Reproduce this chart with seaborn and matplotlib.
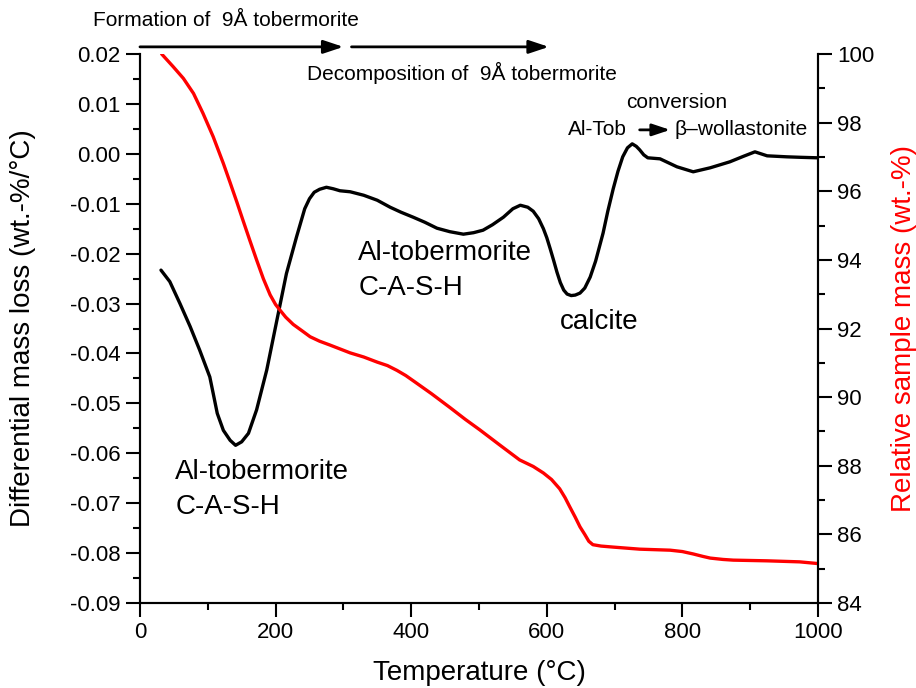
import matplotlib
matplotlib.use("Agg")
import matplotlib.pyplot as plt
from matplotlib.ticker import MultipleLocator, FormatStrFormatter
import seaborn as sns
import pandas as pd

# Differential thermogravimetry (DTG) curve
temp_dtg = [31, 44, 59, 74, 88, 103, 108, 114, 123, 133, 141, 150, 160, 172, 187,
            202, 216, 231, 243, 250, 257, 265, 275, 285, 295, 310, 330, 350, 369,
            385, 403, 420, 438, 457, 477, 492, 506, 520, 536, 550, 561, 572, 580,
            588, 595, 600, 605, 610, 615, 620, 625, 630, 636, 642, 649, 656, 664,
            672, 683, 690, 698, 705, 712, 719, 726, 732, 737, 743, 749, 767, 792,
            816, 841, 870, 890, 907, 925, 954, 975, 1000]
dtg = [-0.0233, -0.0256, -0.0300, -0.0346, -0.0393, -0.0447, -0.0480, -0.0520,
       -0.0554, -0.0574, -0.0584, -0.0577, -0.0560, -0.0513, -0.0433, -0.0333,
       -0.0240, -0.0166, -0.0110, -0.0090, -0.0077, -0.0071, -0.0067, -0.0070,
       -0.0074, -0.0076, -0.0083, -0.0093, -0.0107, -0.0117, -0.0127, -0.0137,
       -0.0149, -0.0156, -0.0161, -0.0158, -0.0153, -0.0142, -0.0127, -0.0110,
       -0.0103, -0.0107, -0.0115, -0.0130, -0.0150, -0.0168, -0.0190, -0.0213,
       -0.0237, -0.0258, -0.0273, -0.0281, -0.0284, -0.0283, -0.0279, -0.0269,
       -0.0247, -0.0215, -0.0159, -0.0115, -0.0070, -0.0035, -0.0006, 0.0012,
       0.0020, 0.0015, 0.0008, -0.0002, -0.0008, -0.0010, -0.0026, -0.0036,
       -0.0028, -0.0016, -0.0005, 0.0004, -0.0004, -0.0006, -0.0007, -0.0008]

# Thermogravimetry (TG) curve
temp_tg = [32, 49, 64, 79, 93, 108, 123, 133, 143, 152, 162, 172, 182, 192, 200,
           208, 215, 226, 240, 251, 265, 280, 310, 330, 350, 365, 379, 392, 405,
           430, 457, 480, 501, 531, 560, 580, 595, 607, 619, 627, 634, 642, 649,
           656, 662, 668, 680, 698, 737, 782, 800, 816, 830, 841, 860, 875, 925,
           973, 1000]
tg = [100.0, 99.63, 99.29, 98.85, 98.27, 97.59, 96.81, 96.25, 95.68, 95.15, 94.57,
      94.0, 93.45, 92.98, 92.7, 92.5, 92.33, 92.12, 91.92, 91.76, 91.63, 91.52,
      91.29, 91.17, 91.02, 90.92, 90.78, 90.63, 90.45, 90.1, 89.7, 89.35, 89.05,
      88.6, 88.17, 87.98, 87.79, 87.6, 87.33, 87.07, 86.8, 86.5, 86.22, 86.0,
      85.8, 85.7, 85.66, 85.63, 85.57, 85.54, 85.5, 85.43, 85.36, 85.31, 85.27,
      85.25, 85.23, 85.2, 85.15]

x_ticks = [0, 200, 400, 600, 800, 1000]

sns.set_style("ticks")
plt.rcParams["font.family"] = ["Liberation Sans", "DejaVu Sans"]
plt.rcParams["axes.unicode_minus"] = False
for key in ("text.color", "axes.labelcolor", "xtick.color", "ytick.color",
            "axes.edgecolor"):
    plt.rcParams[key] = "black"

df_dtg = pd.DataFrame({"T": temp_dtg, "dtg": dtg})
df_tg = pd.DataFrame({"T": temp_tg, "tg": tg})

fig = plt.figure(figsize=(9.16, 6.88), dpi=100)
ax = fig.add_subplot(111)
fig.subplots_adjust(left=0.1528, right=0.893, bottom=0.1235, top=0.9215)
ax2 = ax.twinx()

sns.lineplot(data=df_dtg, x="T", y="dtg", ax=ax, color="black", linewidth=2.4,
             sort=False, estimator=None)
sns.lineplot(data=df_tg, x="T", y="tg", ax=ax2, color="#ff0000", linewidth=2.4,
             sort=False, estimator=None)

ax.set_xlim(0, 1000)
ax.set_ylim(-0.09, 0.02)
ax2.set_ylim(84, 100)

ax.set_xticks(x_ticks)
ax.xaxis.set_minor_locator(MultipleLocator(100))
ax.yaxis.set_major_locator(MultipleLocator(0.01))
ax.yaxis.set_minor_locator(MultipleLocator(0.005))
ax.yaxis.set_major_formatter(FormatStrFormatter("%.2f"))
ax2.yaxis.set_major_locator(MultipleLocator(2))
ax2.yaxis.set_minor_locator(MultipleLocator(1))

for a in (ax, ax2):
    a.spines["top"].set_visible(False)
    for s in ("left", "right", "bottom"):
        a.spines[s].set_linewidth(1.5)
        a.spines[s].set_color("black")
    a.tick_params(which="major", direction="out", length=10, width=1.5,
                  labelsize=16, pad=4, colors="black")
    a.tick_params(which="minor", direction="out", length=5, width=1.5,
                  colors="black")
ax.tick_params(axis="y", which="both", right=False)
ax.tick_params(axis="x", which="both", top=False)

ax.set_xlabel("Temperature (°C)", fontsize=20, labelpad=12)
ax.set_ylabel("Differential mass loss (wt.-%/°C)", fontsize=20)
ax.yaxis.set_label_coords(-0.153, 0.5)
ax2.set_ylabel("Relative sample mass (wt.-%)", fontsize=20, color="#ff0000")
ax2.yaxis.set_label_coords(1.107, 0.5)

# Process arrows above the plot area
arrow_kw = dict(arrowstyle="-|>,head_length=0.6,head_width=0.2", color="black",
                lw=2, mutation_scale=20, shrinkA=0, shrinkB=0)
ax2.annotate("", xy=(300, 1.013), xytext=(0, 1.013),
             xycoords=("data", "axes fraction"), textcoords=("data", "axes fraction"),
             arrowprops=arrow_kw, annotation_clip=False)
ax2.annotate("", xy=(603, 1.013), xytext=(312, 1.013),
             xycoords=("data", "axes fraction"), textcoords=("data", "axes fraction"),
             arrowprops=arrow_kw, annotation_clip=False)
ax.text(-69, 0.0268, "Formation of  9Å tobermorite", fontsize=15, ha="left",
        va="center", clip_on=False)
ax.text(246, 0.0162, "Decomposition of  9Å tobermorite", fontsize=15, ha="left",
        va="center")

# Phase conversion note
ax.text(791, 0.0102, "conversion", fontsize=15, ha="center", va="center")
ax.text(631, 0.0048, "Al-Tob", fontsize=15, ha="left", va="center")
ax.annotate("", xy=(782, 0.0048), xytext=(737, 0.0048),
            arrowprops=dict(arrowstyle="-|>,head_length=0.6,head_width=0.2",
                            color="black", lw=2, mutation_scale=18,
                            shrinkA=0, shrinkB=0))
ax.text(789, 0.0048, "β–wollastonite", fontsize=15, ha="left", va="center")

# Peak assignments
ax.text(52, -0.0638, "Al-tobermorite", fontsize=20, ha="left", va="center")
ax.text(52, -0.0708, "C-A-S-H", fontsize=20, ha="left", va="center")
ax.text(322, -0.0199, "Al-tobermorite", fontsize=20, ha="left", va="center")
ax.text(322, -0.0269, "C-A-S-H", fontsize=20, ha="left", va="center")
ax.text(619, -0.0337, "calcite", fontsize=20, ha="left", va="center")

fig.savefig("out.png", dpi=100)
